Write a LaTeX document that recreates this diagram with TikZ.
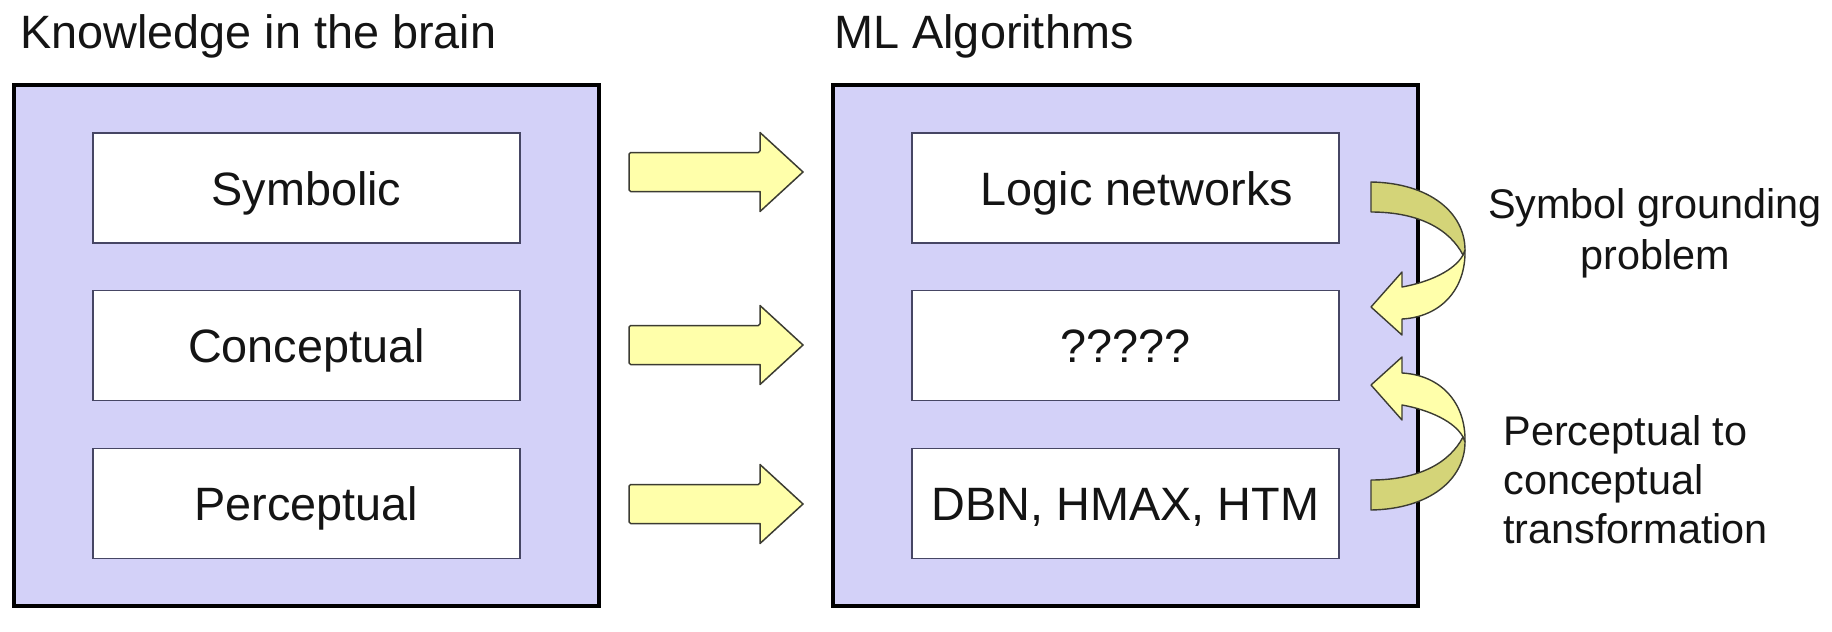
\documentclass[tikz,border=0pt]{standalone}
\usepackage{fontspec}
\setmainfont{Liberation Sans}
\definecolor{lav}{RGB}{211,209,248}
\definecolor{lite}{RGB}{255,255,170}
\definecolor{olive}{RGB}{212,212,120}
\definecolor{boxedge}{RGB}{70,70,100}
\definecolor{arredge}{RGB}{60,60,50}
\definecolor{ink}{RGB}{20,20,20}
\newcommand{\curvarrow}{%
  \path[arrowpart, fill=lite] (1465,250) .. controls (1466,290) and (1440,317) .. (1402,319)
    -- (1402,335) -- (1371,307) -- (1402,272) -- (1402,287)
    .. controls (1430,282) and (1455,270) .. (1463,255) -- cycle;
  \path[arrowpart, fill=olive] (1371,182) .. controls (1430,183) and (1465,213) .. (1465,250)
    -- (1463,255) .. controls (1450,230) and (1420,212) .. (1371,212) -- cycle;
}
\begin{document}
\begin{tikzpicture}[x=0.5pt,y=-0.5pt,
  mainfont/.style={font=\fontsize{23.4}{28}\selectfont, text=ink},
  sidefont/.style={font=\fontsize{20.7}{25}\selectfont, text=ink},
  outerbox/.style={draw=black, line width=2pt, fill=lav, inner sep=0pt,
    minimum width=292.5pt, minimum height=260.5pt},
  innerbox/.style={draw=boxedge, line width=0.9pt, fill=white, inner sep=0pt,
    minimum width=213.5pt, minimum height=55pt, text height=17pt, text depth=0pt, mainfont},
  titletext/.style={anchor=base west, inner sep=0pt, mainfont},
  sidetext/.style={inner sep=0pt, sidefont},
  blockarrow/.style={draw=arredge, line width=0.75pt, fill=lite, line join=round},
  arrowpart/.style={draw=arredge, line width=0.7pt, line join=round}]
\useasboundingbox (0,0) rectangle (1832,632);

% titles
\node[titletext] (t1) at (20,48) {Knowledge in the brain};
\node[titletext] (t2) at (834,48) {ML Algorithms};

% outer boxes
\node[outerbox] (left) at (306.5,345.5) {};
\node[outerbox] (right) at (1125.5,345.5) {};

% inner boxes
\node[innerbox] (sym) at (306.5,188) {Symbolic};
\node[innerbox] (con) at (306.5,345.5) {Conceptual};
\node[innerbox] (per) at (306.5,503.5) {Perceptual};
\node[innerbox] (log) at (1125.5,188) {\hspace*{11.5pt}Logic networks};
\node[innerbox] (qq) at (1125.5,345.5) {?????};
\node[innerbox] (dbn) at (1125.5,503.5) {DBN, HMAX, HTM};

% block arrows
\foreach \c in {172,345,504}{
  \path[blockarrow, rounded corners=0.8pt] (629,\c-19.5) -- (760,\c-19.5) [sharp corners] -- (760,\c-39.5)
    -- (803,\c) -- (760,\c+39.5) -- (760,\c+19.5) [rounded corners=0.8pt] -- (629,\c+19.5) -- cycle;
}

% curved arrows
\curvarrow
\begin{scope}[shift={(0,692)}, yscale=-1]
  \curvarrow
\end{scope}

% side labels
\node[sidetext, anchor=base] (sg1) at (1655,218) {Symbol grounding};
\node[sidetext, anchor=base] (sg2) at (1655,269) {problem};
\node[sidetext, anchor=base west] (pc1) at (1503,445) {Perceptual to};
\node[sidetext, anchor=base west] (pc2) at (1503,494) {conceptual};
\node[sidetext, anchor=base west] (pc3) at (1503,543) {transformation};
\end{tikzpicture}
\end{document}
